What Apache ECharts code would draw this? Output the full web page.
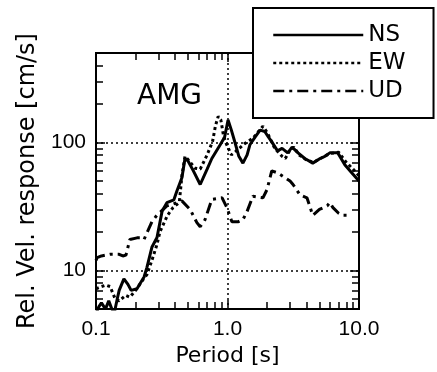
<!DOCTYPE html>
<html><head><meta charset="utf-8">
<script src="https://cdn.jsdelivr.net/npm/echarts@6/dist/echarts.min.js"></script>
<style>html,body{margin:0;padding:0;background:#fff}#c{width:437px;height:372px}</style>
</head><body><div id="c"></div>
<script>
// ---- data (period [s], relative velocity response [cm/s]) ----
const seriesNames = ['NS', 'EW', 'UD'];
const periodsNS = [0.10, 0.105, 0.11, 0.118, 0.125, 0.132, 0.138, 0.145, 0.15, 0.163, 0.175, 0.185, 0.205, 0.232, 0.244, 0.266, 0.291, 0.318, 0.346, 0.391, 0.413, 0.45, 0.475, 0.50, 0.55, 0.62, 0.70, 0.76, 0.88, 0.95, 1.01, 1.07, 1.14, 1.22, 1.31, 1.41, 1.48, 1.62, 1.77, 1.92, 2.05, 2.16, 2.40, 2.60, 2.87, 3.10, 3.44, 3.87, 4.45, 5.06, 5.50, 6.00, 6.90, 7.80, 8.80, 10.0];
const valuesNS  = [4.6, 5.2, 5.6, 5.0, 5.8, 5.0, 4.7, 6.0, 7.0, 8.6, 7.8, 7.0, 7.2, 8.9, 10.6, 15.2, 18.1, 29, 33.9, 35.7, 42, 53, 75, 72, 60, 47, 62, 75, 96, 110, 150, 125, 100, 78, 69, 80, 96, 110, 125, 122, 110, 102, 86, 90, 83, 92, 83, 75, 69, 75, 78, 83, 83, 67, 58, 50];
const periodsEW = [0.10, 0.11, 0.119, 0.128, 0.14, 0.15, 0.168, 0.181, 0.20, 0.228, 0.244, 0.266, 0.291, 0.306, 0.35, 0.385, 0.43, 0.45, 0.475, 0.51, 0.565, 0.62, 0.70, 0.77, 0.81, 0.85, 0.89, 0.93, 0.97, 1.07, 1.15, 1.35, 1.56, 1.86, 2.0, 2.29, 2.6, 2.75, 3.0, 3.2, 3.5, 4.0, 4.5, 5.1, 6.0, 7.0, 8.0, 9.0, 10.0];
const valuesEW  = [7.2, 7.5, 7.7, 7.5, 6.0, 5.8, 6.4, 6.2, 7.0, 8.5, 9.3, 12, 16, 20, 27, 31, 34, 55, 78, 72, 63, 62, 80, 102, 135, 160, 150, 115, 100, 80, 85, 98, 108, 134, 120, 90, 78, 75, 88, 92, 80, 73, 70, 75, 82, 84, 70, 62, 55];
const periodsUD = [0.10, 0.102, 0.11, 0.128, 0.132, 0.15, 0.16, 0.169, 0.181, 0.205, 0.224, 0.232, 0.266, 0.29, 0.346, 0.385, 0.45, 0.52, 0.585, 0.62, 0.675, 0.76, 0.91, 0.99, 1.08, 1.2, 1.31, 1.41, 1.56, 1.86, 2.0, 2.17, 2.4, 2.99, 3.15, 3.56, 4.02, 4.45, 5.0, 5.73, 6.0, 6.34, 7.0, 7.47, 8.1];
const valuesUD  = [12.0, 12.6, 13.0, 13.4, 13.8, 13.4, 13.0, 13.2, 17.5, 18, 18, 17.5, 24, 27, 32, 33, 35, 30, 23.7, 22, 25, 36, 37, 31, 24, 24, 25, 29, 38, 37, 43, 60, 58, 50, 47, 39, 37, 27, 30, 32, 34, 31, 28, 27, 27];

// ---- axis tick values / labels ----
const xTickValues = [0.1, 1, 10];
const xTickLabels = ['0.1', '1.0', '10.0'];
const yTickValues = [10, 100];
const yTickLabels = ['10', '100'];
const xMinorTicks = [0.2, 0.3, 0.4, 0.5, 0.6, 0.7, 0.8, 0.9, 2, 3, 4, 5, 6, 7, 8, 9];
const yMinorTicks = [6, 7, 8, 9, 20, 30, 40, 50, 60, 70, 80, 90, 200, 300, 400];

const FONT = 'DejaVu Sans';
const TICKFONT = 'Liberation Sans';
const lg = v => Math.log10(v);
function pick(vals, labels, v) {
  for (let i = 0; i < vals.length; i++) if (Math.abs(lg(v) - lg(vals[i])) < 1e-6) return labels[i];
  return '';
}
const tickStyle = {color: '#000', width: 1.5};

const mainX = {
  type: 'log', logBase: 10, min: 0.1, max: 10, position: 'bottom',
  axisLine: {show: false, onZero: false},
  axisTick: {show: true, inside: true, length: 9, lineStyle: tickStyle},
  axisLabel: {formatter: v => pick(xTickValues, xTickLabels, v), fontSize: 21, color: '#000', fontFamily: TICKFONT, margin: 10, showMinLabel: true, showMaxLabel: true},
  splitLine: {show: true, lineStyle: {color: '#000', type: [2, 3], width: 1.5}},
  name: 'Period [s]', nameLocation: 'middle', nameGap: 32,
  nameTextStyle: {fontSize: 22, color: '#000', fontFamily: FONT}
};
const topX = {
  type: 'log', logBase: 10, min: 0.1, max: 10, position: 'top',
  axisLine: {show: false, onZero: false},
  axisTick: {show: true, inside: true, length: 9, lineStyle: tickStyle},
  axisLabel: {show: false}, splitLine: {show: false}
};
const minorX = pos => ({
  type: 'value', min: -1, max: 1, position: pos,
  axisLine: {show: false, onZero: false},
  axisTick: {show: true, inside: true, length: 7, lineStyle: tickStyle, customValues: xMinorTicks.map(lg)},
  axisLabel: {show: false}, splitLine: {show: false}
});
const mainY = {
  type: 'log', logBase: 10, min: 5, max: 500, position: 'left',
  axisLine: {show: false, onZero: false},
  axisTick: {show: true, inside: true, length: 9, lineStyle: tickStyle},
  axisLabel: {formatter: v => pick(yTickValues, yTickLabels, v), fontSize: 21, color: '#000', fontFamily: TICKFONT, margin: 10},
  splitLine: {show: true, lineStyle: {color: '#000', type: [2, 3], width: 1.5}},
  name: 'Rel. Vel. response [cm/s]', nameLocation: 'middle', nameGap: 55,
  nameTextStyle: {fontSize: 24, color: '#000', fontFamily: FONT}
};
const rightY = {
  type: 'log', logBase: 10, min: 5, max: 500, position: 'right',
  axisLine: {show: false, onZero: false},
  axisTick: {show: true, inside: true, length: 9, lineStyle: tickStyle},
  axisLabel: {show: false}, splitLine: {show: false}
};
const minorY = pos => ({
  type: 'value', min: lg(5), max: lg(500), position: pos,
  axisLine: {show: false, onZero: false},
  axisTick: {show: true, inside: true, length: 7, lineStyle: tickStyle, customValues: yMinorTicks.map(lg)},
  axisLabel: {show: false}, splitLine: {show: false}
});

const zip = (a, b) => a.map((x, i) => [x, b[i]]);
const lineTypes = ['solid', [3, 3], [11, 5, 3, 5]];
const seriesData = [zip(periodsNS, valuesNS), zip(periodsEW, valuesEW), zip(periodsUD, valuesUD)];

const chart = echarts.init(document.getElementById('c'), null, {renderer: 'canvas'});
chart.setOption({
  animation: false,
  backgroundColor: '#fff',
  title: {text: 'AMG', left: 137, top: 83, padding: 0,
    textStyle: {fontSize: 28, fontWeight: 'normal', color: '#000', fontFamily: FONT}},
  grid: {left: 96, top: 53, width: 263, height: 260, show: true, borderColor: '#000', borderWidth: 2, backgroundColor: 'transparent'},
  legend: {
    data: seriesNames, orient: 'vertical', left: 253, top: 8,
    itemWidth: 90, itemHeight: 14, itemGap: 4,
    padding: [15, 28, 15, 19],
    borderColor: '#000', borderWidth: 2, backgroundColor: '#fff',
    itemStyle: {opacity: 0},
    lineStyle: {width: 2.5},
    textStyle: {fontSize: 23, color: '#000', fontFamily: FONT, lineHeight: 24}
  },
  xAxis: [mainX, topX, minorX('top'), minorX('bottom')],
  yAxis: [mainY, rightY, minorY('right'), minorY('left')],
  series: seriesNames.map((n, i) => ({
    name: n, type: 'line', xAxisIndex: 0, yAxisIndex: 0,
    data: seriesData[i], symbol: 'none', showSymbol: false, smooth: false,
    lineStyle: {color: '#000', width: 3, type: lineTypes[i]},
    itemStyle: {color: '#000'}
  }))
});
</script>
</body></html>
